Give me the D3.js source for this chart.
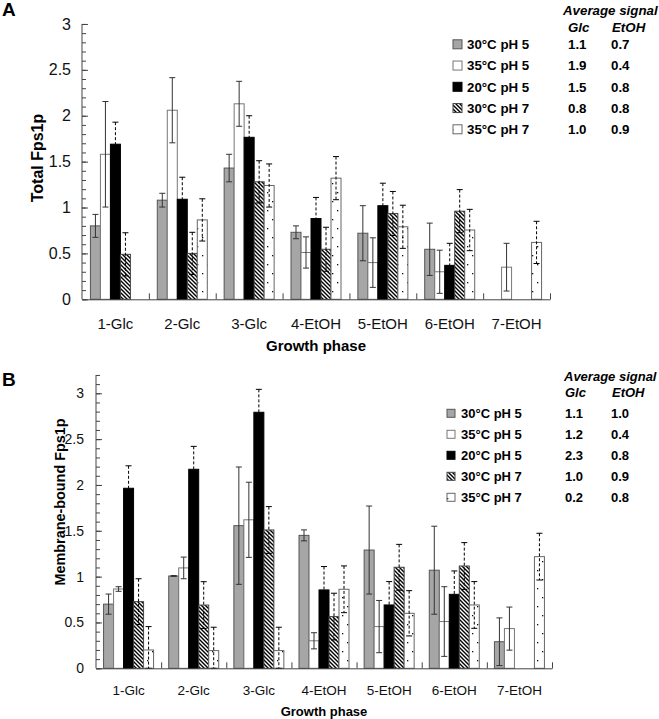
<!DOCTYPE html>
<html><head><meta charset="utf-8">
<script src="https://cdn.jsdelivr.net/npm/d3@7/dist/d3.min.js"></script>
<style>
html,body{margin:0;padding:0;background:#fff;}
svg{display:block;font-family:"Liberation Sans",Arial,Helvetica,sans-serif;}
</style></head><body>
<svg id="c" width="659" height="719"></svg>
<script>
const categories = ["1-Glc","2-Glc","3-Glc","4-EtOH","5-EtOH","6-EtOH","7-EtOH"];
const seriesNames = ["30°C pH 5","35°C pH 5","20°C pH 5","30°C pH 7","35°C pH 7"];

// Panel A: Total Fps1p
const totalValues = [
  [0.80, 1.08, 1.43, 0.73, 0.72, 0.545, 0],
  [1.58, 2.06, 2.13, 0.51, 0.40, 0.30, 0.35],
  [1.69, 1.09, 1.765, 0.88, 1.02, 0.37, 0],
  [0.49, 0.50, 1.28, 0.545, 0.935, 0.96, 0],
  [0, 0.865, 1.24, 1.32, 0.79, 0.755, 0.62]
];
const totalErrors = [
  [0.125, 0.075, 0.15, 0.07, 0.30, 0.285, 0],
  [0.575, 0.355, 0.245, 0.17, 0.27, 0.235, 0.26],
  [0.24, 0.24, 0.235, 0.23, 0.245, 0.24, 0],
  [0.235, 0.23, 0.23, 0.24, 0.24, 0.235, 0],
  [0, 0.23, 0.235, 0.235, 0.235, 0.225, 0.23]
];
const totalGlc  = ["1.1","1.9","1.5","0.8","1.0"];
const totalEtOH = ["0.7","0.4","0.8","0.8","0.9"];
const totalTicks = [0, 0.5, 1, 1.5, 2, 2.5, 3];

// Panel B: Membrane-bound Fps1p
const membraneValues = [
  [0.70, 1.007, 1.556, 1.45, 1.29, 1.07, 0.29],
  [0.865, 1.095, 1.62, 0.30, 0.455, 0.51, 0.433],
  [1.964, 2.171, 2.793, 0.855, 0.691, 0.807, 0],
  [0.727, 0.69, 1.509, 0.564, 1.102, 1.116, 0],
  [0.20, 0.193, 0.193, 0.862, 0.60, 0.691, 1.218]
];
const membraneErrors = [
  [0.11, 0.005, 0.64, 0.06, 0.48, 0.48, 0.26],
  [0.025, 0.118, 0.41, 0.088, 0.285, 0.38, 0.235],
  [0.245, 0.25, 0.25, 0.255, 0.255, 0.255, 0],
  [0.25, 0.255, 0.255, 0.255, 0.25, 0.255, 0],
  [0.255, 0.255, 0.255, 0.255, 0.247, 0.255, 0.255]
];
const membraneGlc  = ["1.1","1.2","2.3","1.0","0.2"];
const membraneEtOH = ["1.0","0.4","0.8","0.9","0.8"];
const membraneTicks = [0, 0.5, 1, 1.5, 2, 2.5, 3];

const svg = d3.select("#c");
const defs = svg.append("defs");
// hatch pattern (\\\)
const hp = defs.append("pattern").attr("id","hatch").attr("patternUnits","userSpaceOnUse")
  .attr("width",4).attr("height",4);
hp.append("rect").attr("width",4).attr("height",4).attr("fill","#fff");
hp.append("path").attr("d","M0,0L4,4M-1,3L1,5M3,-1L5,1")
  .attr("stroke","#000").attr("stroke-width",1.4);
// dotted pattern
const dp = defs.append("pattern").attr("id","dots").attr("patternUnits","userSpaceOnUse")
  .attr("width",10).attr("height",18);
dp.append("rect").attr("width",10).attr("height",18).attr("fill","#fff");
dp.append("rect").attr("x",2).attr("y",3).attr("width",1.3).attr("height",1.3).attr("fill","#111");
dp.append("rect").attr("x",7).attr("y",12).attr("width",1.3).attr("height",1.3).attr("fill","#111");

const fills   = ["#a6a6a6","#ffffff","#000000","url(#hatch)","url(#dots)"];
const strokes = ["#555","#777","#000","#444","#666"];
const dashed  = [false,false,true,true,true];

function panel(o){
  const g = svg.append("g");
  const x0 = d3.scaleBand().domain(categories).range([o.left,o.right]).paddingInner(0).paddingOuter(0);
  const pad = (x0.bandwidth() - 5*o.barW)/2;
  const x1 = d3.scaleBand().domain(d3.range(5)).range([pad, pad+5*o.barW]);
  const y = d3.scaleLinear().domain([0,o.ymax]).range([o.bottom, o.bottom - o.ymax*o.unit]);

  // bars
  o.values.forEach((vals,s)=>{
    vals.forEach((v,i)=>{
      if(v<=0) return;
      g.append("rect")
        .attr("x", x0(categories[i]) + x1(s))
        .attr("y", y(v))
        .attr("width", x1.bandwidth())
        .attr("height", y(0)-y(v))
        .attr("fill", fills[s]).attr("stroke", strokes[s]).attr("stroke-width",1);
    });
  });
  // error bars
  o.values.forEach((vals,s)=>{
    vals.forEach((v,i)=>{
      const e = o.errors[s][i];
      if(v<=0 || e<=0) return;
      const cx = x0(categories[i]) + x1(s) + x1.bandwidth()/2;
      const col = dashed[s] ? "#000" : "#333";
      const ln = g.append("line").attr("x1",cx).attr("x2",cx)
        .attr("y1",y(v+e)).attr("y2",y(Math.max(0,v-e)))
        .attr("stroke", col).attr("stroke-width",1);
      if(dashed[s]) ln.attr("stroke-dasharray","3,2");
      [v+e, Math.max(0,v-e)].forEach(t=>{
        g.append("line").attr("x1",cx-3).attr("x2",cx+3).attr("y1",y(t)).attr("y2",y(t))
          .attr("stroke",col).attr("stroke-width",1);
      });
    });
  });

  // y axis major
  const ya = d3.axisLeft(y).tickValues(o.ticks).tickSize(-6).tickSizeOuter(0).tickPadding(o.tickPad)
    .tickFormat(d=>d3.format("")(d));
  const yg = g.append("g").attr("transform",`translate(${o.left},0)`).call(ya);
  yg.selectAll("text").attr("font-size",o.tickFont).attr("fill","#111");
  yg.selectAll("line,path").attr("stroke","#444");
  yg.select(".domain").attr("d",`M0,${y(0)}V${y(o.ymax)}`);
  // minor ticks
  const minor = d3.range(0, o.ymax+0.001, 0.1).map(d=>+d.toFixed(1));
  const ym = d3.axisLeft(y).tickValues(minor).tickSize(-4).tickFormat("");
  const ymg = g.append("g").attr("transform",`translate(${o.left},0)`).call(ym);
  ymg.select(".domain").remove();
  ymg.selectAll("line").attr("stroke","#444");

  // x axis
  const xa = d3.axisBottom(x0).tickSize(0).tickPadding(o.catPad).tickSizeOuter(0);
  const xg = g.append("g").attr("transform",`translate(0,${o.bottom})`).call(xa);
  xg.selectAll("text").attr("font-size",o.catFont).attr("fill","#111");
  xg.select(".domain").attr("stroke","#444");
  const xb = d3.scaleLinear().domain([0,categories.length]).range([o.left,o.right]);
  const xbg = g.append("g").attr("transform",`translate(0,${o.bottom})`)
    .call(d3.axisBottom(xb).tickValues(d3.range(1,categories.length+1)).tickSize(-6).tickFormat(""));
  xbg.select(".domain").remove();
  xbg.selectAll("line").attr("stroke","#444");

  // titles
  g.append("text").attr("x",(o.left+o.right)/2).attr("y",o.xTitleY).attr("text-anchor","middle")
    .attr("font-weight","bold").attr("font-size",o.xTitleFont).text("Growth phase");
  g.append("text").attr("transform",`translate(${o.yTitleX},${o.yTitleY}) rotate(-90)`)
    .attr("text-anchor","middle").attr("font-weight","bold").attr("font-size",o.yTitleFont).text(o.yTitle);
  g.append("text").attr("x",2).attr("y",o.letterY).attr("font-weight","bold").attr("font-size",19).text(o.letter);

  // legend
  const L = o.legend;
  g.append("text").attr("x",L.headX).attr("y",L.headY).attr("font-weight","bold").attr("font-style","italic")
    .attr("font-size",L.font).text("Average signal");
  g.append("text").attr("x",L.glcX).attr("y",L.headY+16.5).attr("font-weight","bold").attr("font-style","italic")
    .attr("font-size",L.font).text("Glc");
  g.append("text").attr("x",L.etX).attr("y",L.headY+16.5).attr("font-weight","bold").attr("font-style","italic")
    .attr("font-size",L.font).text("EtOH");
  seriesNames.forEach((n,s)=>{
    const cy = L.rowY + s*L.rowH;
    g.append("rect").attr("x",L.swX).attr("y",cy-L.sw/2).attr("width",L.sw).attr("height",L.sw)
      .attr("fill",fills[s]).attr("stroke",strokes[s]).attr("stroke-width",1);
    g.append("text").attr("x",L.txtX).attr("y",cy+4.8).attr("font-weight","bold").attr("font-size",L.font).text(n);
    g.append("text").attr("x",L.glcX).attr("y",cy+4.8).attr("font-weight","bold").attr("font-size",L.font).text(o.glc[s]);
    g.append("text").attr("x",L.etX-1).attr("y",cy+4.8).attr("font-weight","bold").attr("font-size",L.font).text(o.etoh[s]);
  });
}

panel({
  values: totalValues, errors: totalErrors, glc: totalGlc, etoh: totalEtOH, ticks: totalTicks,
  left: 82, right: 550, bottom: 299.3, unit: 91.78, ymax: 3, barW: 10,
  tickFont: 16, tickPad: 11, catFont: 15, catPad: 19,
  xTitleY: 351, xTitleFont: 15, yTitle: "Total Fps1p", yTitleX: 43, yTitleY: 158, yTitleFont: 16,
  letter: "A", letterY: 16,
  legend: {headX:563, headY:15, glcX:568, etX:612, rowY:44.3, rowH:21.25, swX:453, sw:9, txtX:467, font:13.3}
});
panel({
  values: membraneValues, errors: membraneErrors, glc: membraneGlc, etoh: membraneEtOH, ticks: membraneTicks,
  left: 96, right: 552, bottom: 668.3, unit: 91.67, ymax: 3.2, barW: 10,
  tickFont: 14, tickPad: 12, catFont: 13.5, catPad: 17,
  xTitleY: 716, xTitleFont: 13, yTitle: "Membrane-bound Fps1p", yTitleX: 65, yTitleY: 502, yTitleFont: 14.4,
  letter: "B", letterY: 386,
  legend: {headX:564, headY:380.5, glcX:565, etX:612, rowY:413.3, rowH:21, swX:447, sw:8, txtX:461, font:13}
});
</script>
</body></html>
